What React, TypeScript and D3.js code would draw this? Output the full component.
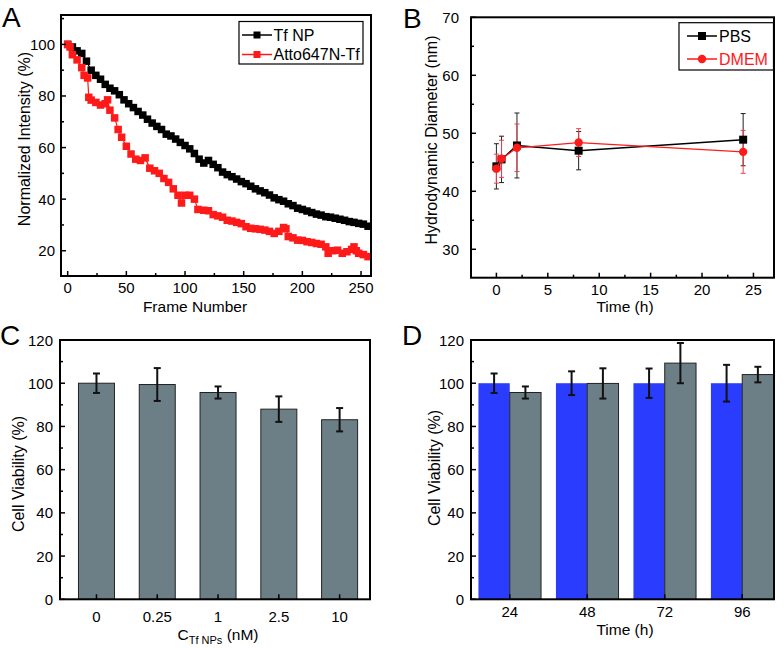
import React from 'react';
import * as d3 from 'd3';

// ---------- Panel A data ----------
const framesTf = [0,4,8,12,16,20,24,28,32,36,40,44,48,52,56,60,64,68,72,76,80,84,88,92,96,100,104,108,112,116,120,124,128,132,136,140,144,148,152,156,160,164,168,172,176,180,184,188,192,196,200,204,208,212,216,220,224,228,232,236,240,244,248,252,256];
const tfNP = [100,99,97.5,96.5,93.5,90,88,86.5,84.5,83,82,80.5,78.5,77,75.5,74,72.6,71,69.5,68.2,67,65.2,64.5,63.3,62,60.8,59.5,57.7,55.5,54,55,53.5,52.2,50.5,49.5,48.7,47.8,46.8,46,45,44,43.2,42.5,41.6,40.5,39.8,39.2,38.2,37.5,36.5,36,35.4,34.8,34.2,33.8,33.2,33,32.6,32.2,31.8,31.3,31,30.6,30.3,29.5];
const framesAtto = [0,2,4,8,12,14,17,18,20,24,28,32,34,36,40,43,46,50,54,58,62,66,70,74,78,82,86,90,94,97,100,104,108,111,116,120,124,128,132,136,140,144,148,152,156,160,164,168,172,176,180,184,186,188,192,196,200,204,208,212,216,220,222,226,230,234,238,242,244,246,248,252,256];
const atto = [100,99,96,94,91,88,87,79.5,78.4,77.5,76.5,77,78.5,74.5,71.5,67,64,60.5,57.5,55.5,55,56,52,51,50,48,46.5,44,41.5,38.5,41.5,41.5,40,36,35.7,35.5,34,33.5,33,31.8,31.5,31,30.5,29.3,28.7,28.5,28.3,28,27.5,26.7,27.5,29,28.5,25.5,25,24.1,24,23.5,23.2,22.8,22.5,21.5,19,20,20.2,19,19.6,20.5,21.5,20,19,18.5,17.7];

// ---------- Panel B data ----------
const timesB = [0, 0.5, 2, 8, 24];
const pbs = [44.3, 45.5, 47.9, 47.0, 48.9];
const pbsErr = [3.9, 4.0, 5.6, 3.3, 4.5];
const dmem = [43.9, 45.6, 47.5, 48.4, 46.8];
const dmemErr = [2.5, 3.2, 4.1, 2.4, 3.7];

// ---------- Panel C data ----------
const concLabels = ['0', '0.25', '1', '2.5', '10'];
const concViab = [100, 99.4, 95.7, 88.0, 83.1];
const concErr = [4.5, 7.6, 2.8, 5.9, 5.4];

// ---------- Panel D data ----------
const timeLabels = ['24', '48', '72', '96'];
const ctrlViab = [100, 100, 100, 100];
const ctrlErr = [4.5, 5.5, 6.8, 8.5];
const npViab = [95.7, 99.9, 109.3, 104.0];
const npErr = [2.8, 7.0, 9.3, 3.6];

const FONT = 'Liberation Sans, Arial, sans-serif';
const GRAY = '#6d7f86';
const BLUE = '#2a3dff';
const RED = '#ff1a1a';

type Box = { l: number; r: number; t: number; b: number };

function Frame({ box }: { box: Box }) {
  return <rect x={box.l} y={box.t} width={box.r - box.l} height={box.b - box.t} fill="none" stroke="#000" strokeWidth={2} />;
}

function YAxis({ box, y, major, minor, labelX }: { box: Box; y: any; major: number[]; minor: number[]; labelX: number }) {
  return (
    <g>
      {minor.map((v) => <line key={'m' + v} x1={box.l} x2={box.l + 3} y1={y(v)} y2={y(v)} stroke="#000" strokeWidth={1.5} />)}
      {major.map((v) => <line key={'M' + v} x1={box.l} x2={box.l + 5} y1={y(v)} y2={y(v)} stroke="#000" strokeWidth={1.5} />)}
      {major.map((v) => (
        <text key={'t' + v} x={labelX} y={y(v)} textAnchor="end" dominantBaseline="central" fontSize={15} fontFamily={FONT}>{v}</text>
      ))}
    </g>
  );
}

function XTicks({ box, x, major, minor, labels, baseline }: { box: Box; x: any; major: number[]; minor: number[]; labels: string[]; baseline: number }) {
  return (
    <g>
      {minor.map((v) => <line key={'m' + v} x1={x(v)} x2={x(v)} y1={box.b} y2={box.b - 3} stroke="#000" strokeWidth={1.5} />)}
      {major.map((v) => <line key={'M' + v} x1={x(v)} x2={x(v)} y1={box.b} y2={box.b - 5} stroke="#000" strokeWidth={1.5} />)}
      {major.map((v, i) => (
        <text key={'t' + v} x={x(v)} y={baseline} textAnchor="middle" fontSize={15} fontFamily={FONT}>{labels[i]}</text>
      ))}
    </g>
  );
}

function YTitle({ x, y, text }: { x: number; y: number; text: string }) {
  return <text transform={`translate(${x},${y}) rotate(-90)`} textAnchor="middle" fontSize={16} fontFamily={FONT}>{text}</text>;
}

function PanelA() {
  const box: Box = { l: 61, r: 371, t: 15, b: 276 };
  const x = d3.scaleLinear().domain([-5.7, 258.5]).range([box.l, box.r]);
  const y = d3.scaleLinear().domain([10.2, 111.4]).range([box.b, box.t]);
  const line = d3.line<[number, number]>().x((d) => x(d[0])).y((d) => y(d[1]));
  const tfPts = framesTf.map((f, i) => [f, tfNP[i]] as [number, number]);
  const atPts = framesAtto.map((f, i) => [f, atto[i]] as [number, number]);
  const s = 7.5;
  return (
    <g>
      <path d={line(tfPts) || ''} fill="none" stroke="#000" strokeWidth={1.2} />
      {tfPts.map((p, i) => <rect key={'b' + i} x={x(p[0]) - s / 2} y={y(p[1]) - s / 2} width={s} height={s} fill="#000" />)}
      <path d={line(atPts) || ''} fill="none" stroke={RED} strokeWidth={1.2} />
      {atPts.map((p, i) => <rect key={'r' + i} x={x(p[0]) - s / 2} y={y(p[1]) - s / 2} width={s} height={s} fill={RED} />)}
      <Frame box={box} />
      <YAxis box={box} y={y} major={[20, 40, 60, 80, 100]} minor={[30, 50, 70, 90, 110]} labelX={55} />
      <XTicks box={box} x={x} major={[0, 50, 100, 150, 200, 250]} minor={[25, 75, 125, 175, 225]} labels={['0', '50', '100', '150', '200', '250']} baseline={293} />
      <text x={195} y={312} textAnchor="middle" fontSize={15.5} fontFamily={FONT}>Frame Number</text>
      <YTitle x={30} y={139} text="Normalized Intensity (%)" />
      {/* legend */}
      <rect x={239} y={21.5} width={124} height={42.5} fill="#fff" stroke="#000" strokeWidth={1.2} />
      <line x1={242} x2={272} y1={35} y2={35} stroke="#000" strokeWidth={1.5} />
      <rect x={257 - 3.5} y={35 - 3.5} width={7} height={7} fill="#000" />
      <text x={273.5} y={35} dominantBaseline="central" fontSize={16} fontFamily={FONT}>Tf NP</text>
      <line x1={242} x2={272} y1={54.5} y2={54.5} stroke={RED} strokeWidth={1.5} />
      <rect x={257 - 3.5} y={54.5 - 3.5} width={7} height={7} fill={RED} />
      <text x={273.5} y={54.5} dominantBaseline="central" fontSize={16} fontFamily={FONT}>Atto647N-Tf</text>
      <text x={2} y={27} fontSize={28} fontFamily={FONT}>A</text>
    </g>
  );
}

function PanelB() {
  const box: Box = { l: 471, r: 774, t: 17.3, b: 277.7 };
  const x = d3.scaleLinear().domain([-2.47, 27]).range([box.l, box.r]);
  const y = d3.scaleLinear().domain([25.1, 70]).range([box.b, box.t]);
  const line = d3.line<number>().x((_, i) => x(timesB[i])).y((d) => y(d));
  const cap = 2.5;
  return (
    <g>
      {timesB.map((t, i) => (
        <g key={'pe' + i} stroke="#222" strokeWidth={1}>
          <line x1={x(t)} x2={x(t)} y1={y(pbs[i] - pbsErr[i])} y2={y(pbs[i] + pbsErr[i])} />
          <line x1={x(t) - cap} x2={x(t) + cap} y1={y(pbs[i] - pbsErr[i])} y2={y(pbs[i] - pbsErr[i])} />
          <line x1={x(t) - cap} x2={x(t) + cap} y1={y(pbs[i] + pbsErr[i])} y2={y(pbs[i] + pbsErr[i])} />
        </g>
      ))}
      {timesB.map((t, i) => (
        <g key={'de' + i} stroke="#f0404a" strokeWidth={1}>
          <line x1={x(t)} x2={x(t)} y1={y(dmem[i] - dmemErr[i])} y2={y(dmem[i] + dmemErr[i])} />
          <line x1={x(t) - cap} x2={x(t) + cap} y1={y(dmem[i] - dmemErr[i])} y2={y(dmem[i] - dmemErr[i])} />
          <line x1={x(t) - cap} x2={x(t) + cap} y1={y(dmem[i] + dmemErr[i])} y2={y(dmem[i] + dmemErr[i])} />
        </g>
      ))}
      <path d={line(pbs) || ''} fill="none" stroke="#000" strokeWidth={1.5} />
      {timesB.map((t, i) => <rect key={'pm' + i} x={x(t) - 4} y={y(pbs[i]) - 4} width={8} height={8} fill="#000" />)}
      <path d={line(dmem) || ''} fill="none" stroke={RED} strokeWidth={1.2} />
      {timesB.map((t, i) => <circle key={'dm' + i} cx={x(t)} cy={y(dmem[i])} r={4.2} fill={RED} />)}
      <Frame box={box} />
      <YAxis box={box} y={y} major={[30, 40, 50, 60, 70]} minor={[35, 45, 55, 65]} labelX={459} />
      <XTicks box={box} x={x} major={[0, 5, 10, 15, 20, 25]} minor={[2.5, 7.5, 12.5, 17.5, 22.5]} labels={['0', '5', '10', '15', '20', '25']} baseline={295} />
      <text x={625} y={312} textAnchor="middle" fontSize={15.5} fontFamily={FONT}>Time (h)</text>
      <YTitle x={437} y={140} text="Hydrodynamic Diameter (nm)" />
      <rect x={679} y={22.7} width={94.5} height={47.3} fill="#fff" stroke="#000" strokeWidth={1.2} />
      <line x1={687} x2={717} y1={36} y2={36} stroke="#000" strokeWidth={1.5} />
      <rect x={702 - 4} y={36 - 4} width={8} height={8} fill="#000" />
      <text x={719} y={36} dominantBaseline="central" fontSize={16} fontFamily={FONT}>PBS</text>
      <line x1={687} x2={717} y1={59} y2={59} stroke={RED} strokeWidth={1.5} />
      <circle cx={702} cy={59} r={4.2} fill={RED} />
      <text x={719} y={59} dominantBaseline="central" fontSize={16} fill={RED} fontFamily={FONT}>DMEM</text>
      <text x={403} y={28} fontSize={28} fontFamily={FONT}>B</text>
    </g>
  );
}

function ErrBar({ cx, lo, hi }: { cx: number; lo: number; hi: number }) {
  const c = 3.5;
  return (
    <g stroke="#111" strokeWidth={2}>
      <line x1={cx} x2={cx} y1={lo} y2={hi} />
      <line x1={cx - c} x2={cx + c} y1={lo} y2={lo} />
      <line x1={cx - c} x2={cx + c} y1={hi} y2={hi} />
    </g>
  );
}

function PanelC() {
  const box: Box = { l: 60, r: 370, t: 340, b: 599.3 };
  const x = d3.scaleLinear().domain([0.4, 5.5]).range([box.l, box.r]);
  const y = d3.scaleLinear().domain([0, 120]).range([box.b, box.t]);
  const bw = 36;
  const pos = concLabels.map((_, i) => i + 1);
  return (
    <g>
      {pos.map((p, i) => (
        <rect key={'c' + i} x={x(p) - bw / 2} y={y(concViab[i])} width={bw} height={y(0) - y(concViab[i])} fill={GRAY} stroke="#222" strokeWidth={1} />
      ))}
      {pos.map((p, i) => <ErrBar key={'e' + i} cx={x(p)} lo={y(concViab[i] - concErr[i])} hi={y(concViab[i] + concErr[i])} />)}
      <Frame box={box} />
      <YAxis box={box} y={y} major={[0, 20, 40, 60, 80, 100, 120]} minor={[10, 30, 50, 70, 90, 110]} labelX={53} />
      <XTicks box={box} x={x} major={pos} minor={[]} labels={concLabels} baseline={622} />
      <text x={218} y={640} textAnchor="middle" fontSize={15.5} fontFamily={FONT}>
        C<tspan dy={4} fontSize={11}>Tf NPs</tspan><tspan dy={-4}> (nM)</tspan>
      </text>
      <YTitle x={24} y={474} text="Cell Viability (%)" />
      <text x={0} y={345} fontSize={28} fontFamily={FONT}>C</text>
    </g>
  );
}

function PanelD() {
  const box: Box = { l: 471, r: 774, t: 340, b: 599.3 };
  const x = d3.scaleLinear().domain([0.5, 4.41]).range([box.l, box.r]);
  const y = d3.scaleLinear().domain([0, 120]).range([box.b, box.t]);
  const bw = 31.3;
  const pos = timeLabels.map((_, i) => i + 1);
  return (
    <g>
      {pos.map((p, i) => (
        <rect key={'b' + i} x={x(p) - bw} y={y(ctrlViab[i])} width={bw} height={y(0) - y(ctrlViab[i])} fill={BLUE} />
      ))}
      {pos.map((p, i) => (
        <rect key={'g' + i} x={x(p)} y={y(npViab[i])} width={bw} height={y(0) - y(npViab[i])} fill={GRAY} stroke="#222" strokeWidth={1} />
      ))}
      {pos.map((p, i) => <ErrBar key={'eb' + i} cx={x(p) - bw / 2} lo={y(ctrlViab[i] - ctrlErr[i])} hi={y(ctrlViab[i] + ctrlErr[i])} />)}
      {pos.map((p, i) => <ErrBar key={'eg' + i} cx={x(p) + bw / 2} lo={y(npViab[i] - npErr[i])} hi={y(npViab[i] + npErr[i])} />)}
      <Frame box={box} />
      <YAxis box={box} y={y} major={[0, 20, 40, 60, 80, 100, 120]} minor={[10, 30, 50, 70, 90, 110]} labelX={464} />
      <XTicks box={box} x={x} major={pos} minor={[]} labels={timeLabels} baseline={617} />
      <text x={625} y={635} textAnchor="middle" fontSize={15.5} fontFamily={FONT}>Time (h)</text>
      <YTitle x={440} y={468} text="Cell Viability (%)" />
      <text x={402} y={345} fontSize={28} fontFamily={FONT}>D</text>
    </g>
  );
}

export default function App() {
  return (
    <svg width={784} height={648} viewBox="0 0 784 648" style={{ position: 'absolute', left: 0, top: 0, background: '#fff' }}>
      <rect x={0} y={0} width={784} height={648} fill="#fff" />
      <PanelA />
      <PanelB />
      <PanelC />
      <PanelD />
    </svg>
  );
}
